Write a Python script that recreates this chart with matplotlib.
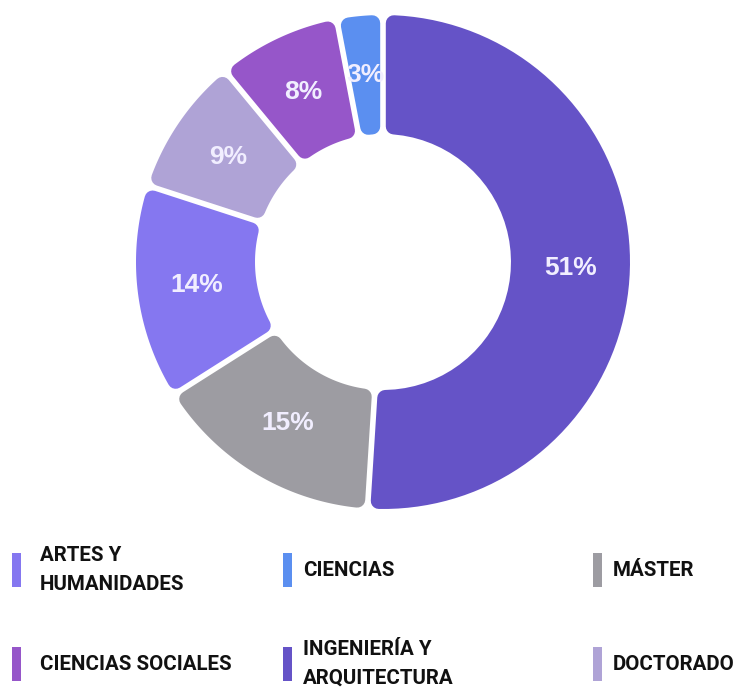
import numpy as np
import matplotlib; matplotlib.use("Agg")
import matplotlib.pyplot as plt
from matplotlib.patches import Polygon, Rectangle

# slices, clockwise from 12 o'clock
slices = ["INGENIERÍA Y\nARQUITECTURA", "MÁSTER", "ARTES Y\nHUMANIDADES",
          "DOCTORADO", "CIENCIAS SOCIALES", "CIENCIAS"]
pct = [51, 15, 14, 9, 8, 3]
colors = ["#6553c7", "#9d9ca2", "#8577f0", "#afa3d6", "#9656c9", "#5b8ff0"]

# legend, row by row
leg_names = ["ARTES Y\nHUMANIDADES", "CIENCIAS", "MÁSTER",
             "CIENCIAS SOCIALES", "INGENIERÍA Y\nARQUITECTURA", "DOCTORADO"]

W, H = 745, 688
CX, CY = 383, H - 262          # pie centre in px (y up)
R, RIN = 247, 128              # outer / inner radius px
GAP, RC = 2.8, 8.0             # half-gap between slices, corner radius (px)
PT = 72 / 100                  # px -> points

fig = plt.figure(figsize=(W / 100, H / 100), dpi=100)
ax = fig.add_axes([0, 0, 1, 1])
ax.set_xlim(0, W); ax.set_ylim(0, H); ax.set_aspect("equal"); ax.axis("off")

wedges, texts, autotexts = ax.pie(
    pct, colors=colors, startangle=90, counterclock=False,
    center=(CX, CY), radius=R, wedgeprops=dict(width=R - RIN),
    autopct="%d%%", pctdistance=(R + RIN) / 2 / R,
    textprops=dict(color="#f1eeff", fontsize=19, fontweight="bold",
                   family="Liberation Sans"))
ax.set_xlim(0, W); ax.set_ylim(0, H)

# redraw each wedge as a gapped annular sector with rounded corners
d = GAP + RC
ro, ri = R - RC, RIN + RC
for w in wedges:
    t1, t2 = np.radians(w.theta1), np.radians(w.theta2)
    ao, ai = np.arcsin(d / ro), np.arcsin(d / ri)
    th_o = np.linspace(t1 + ao, t2 - ao, 80)
    th_i = np.linspace(t2 - ai, t1 + ai, 40)
    pts = np.r_[np.c_[CX + ro * np.cos(th_o), CY + ro * np.sin(th_o)],
                np.c_[CX + ri * np.cos(th_i), CY + ri * np.sin(th_i)]]
    fc = w.get_facecolor()
    ax.add_patch(Polygon(pts, closed=True, facecolor=fc, edgecolor=fc,
                         lw=2 * RC * PT, joinstyle="round", zorder=1))
    w.set_visible(False)
for t in autotexts:
    t.set_zorder(3)

# legend drawn by hand: 3 columns, 2 rows
col_x = [12, 283, 593]
row_y = [H - 570, H - 664]
for i, name in enumerate(leg_names):
    x, y = col_x[i % 3], row_y[i // 3]
    c = colors[slices.index(name)]
    ax.add_patch(Rectangle((x, y - 17), 9, 34, color=c, lw=0))
    ax.text(x + 28 - (8 if i % 3 else 0), y, name, ha="left", va="center",
            fontsize=14.8, fontweight="bold", family="Roboto",
            color="#111111", linespacing=1.65)

fig.savefig("out.png", dpi=100)
